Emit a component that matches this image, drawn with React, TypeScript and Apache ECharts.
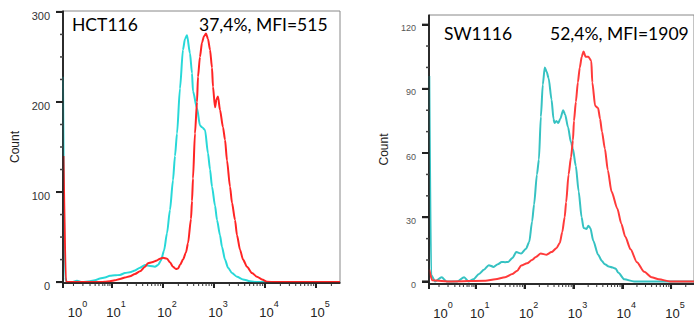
import React, { useEffect, useRef } from "react";
import * as echarts from "echarts";

// Panel texts
const panelNames = ["HCT116", "SW1116"];
const panelStats = ["37,4%, MFI=515", "52,4%, MFI=1909"];
const yAxisName = "Count";

// Axis: x is in display decades of a logicle-like axis (10^k sits at k)
const xMin = 0.04;
const xMax = 5.47;
const xLabelPos = [0.245, 1, 2, 3, 4, 5];
const xLabelExp = ["0", "1", "2", "3", "4", "5"];
const xMajorTicks = [0.04, 1, 2, 3, 4, 5];
const firstDecadeMinor = [0.245, 0.43, 0.57, 0.67, 0.745, 0.82, 0.86, 0.92, 0.96];

const hctYTicks = [0, 100, 200, 300];
const swYTicks = [0, 30, 60, 90, 120];

// HCT116 – isotype (cyan) and stained (red)
const hctIsotype = [
  [0.039, 228], [0.078, 5], [0.118, 0], [0.216, 0], [0.314, 1.5], [0.41, 0], [0.569, 1],
  [0.667, 2], [0.765, 4], [0.863, 5], [0.961, 7], [1.059, 7.5], [1.157, 8], [1.255, 10],
  [1.353, 11], [1.451, 13], [1.549, 16], [1.647, 19], [1.745, 18], [1.843, 17], [1.902, 19],
  [1.961, 24], [2.02, 35], [2.078, 54], [2.137, 80], [2.196, 113], [2.235, 140], [2.275, 165],
  [2.333, 215], [2.392, 258], [2.431, 270], [2.471, 274], [2.529, 254], [2.569, 232],
  [2.588, 212], [2.667, 193], [2.725, 174], [2.765, 172], [2.824, 169], [2.882, 143],
  [2.922, 125], [2.961, 106], [3.02, 85], [3.059, 69], [3.118, 52], [3.157, 39], [3.216, 25],
  [3.275, 16], [3.353, 10], [3.451, 6], [3.569, 3], [3.706, 1], [3.843, 0], [5.47, 0],
];
const hctStained = [
  [0.049, 140], [0.098, 0], [0.765, 0], [0.863, 0.5], [0.961, 1], [1.059, 2], [1.157, 3.5],
  [1.255, 5], [1.353, 6.5], [1.451, 9], [1.549, 12], [1.647, 17], [1.706, 21], [1.784, 22],
  [1.882, 24], [1.941, 26], [2.0, 27], [2.078, 26], [2.137, 22], [2.196, 17], [2.255, 14.5],
  [2.294, 15], [2.333, 19], [2.392, 25], [2.451, 33], [2.49, 43], [2.549, 70], [2.569, 90],
  [2.588, 115], [2.627, 165], [2.667, 200], [2.686, 228], [2.725, 250], [2.765, 266],
  [2.804, 273], [2.843, 276], [2.882, 270], [2.922, 258], [2.961, 238], [2.98, 217],
  [3.02, 194], [3.049, 203], [3.078, 206], [3.118, 191], [3.176, 172], [3.216, 158],
  [3.255, 135], [3.314, 106], [3.353, 88], [3.412, 69], [3.451, 52], [3.51, 36], [3.569, 25],
  [3.647, 17], [3.745, 10], [3.843, 6], [3.941, 3], [4.039, 0.5], [4.2, 0], [5.47, 0],
];

// SW1116 – isotype (cyan) and stained (red)
const swIsotype = [
  [0.046, 96], [0.085, 3], [0.165, 0], [0.3, 2], [0.4, 0], [0.62, 0], [0.76, 2], [0.85, 0],
  [0.95, 1], [1.065, 3.5], [1.165, 5.5], [1.265, 7.6], [1.364, 6.8], [1.45, 8], [1.53, 9.1],
  [1.6, 9], [1.663, 9.1], [1.75, 11], [1.829, 13.7], [1.928, 13], [2.028, 15.3], [2.093, 18.4],
  [2.153, 28], [2.193, 36], [2.252, 50], [2.292, 57], [2.332, 77], [2.372, 92], [2.412, 100],
  [2.451, 98], [2.491, 95], [2.551, 85], [2.591, 76], [2.611, 74], [2.65, 75], [2.69, 74],
  [2.73, 76], [2.789, 80], [2.829, 78], [2.889, 72], [2.949, 65], [2.988, 62], [3.048, 54],
  [3.107, 42], [3.167, 30], [3.207, 25], [3.266, 24.5], [3.306, 26], [3.346, 25], [3.406, 19],
  [3.505, 12.5], [3.584, 9.5], [3.644, 8], [3.724, 7], [3.803, 6.5], [3.863, 6], [3.922, 4],
  [4.042, 1], [4.241, 0], [5.47, 0],
];
const swStained = [
  [0.046, 5.5], [0.105, 0.5], [0.5, 0], [1.2, 0.3], [1.4, 1], [1.6, 2], [1.75, 3.5],
  [1.85, 5], [1.93, 7.5], [2.05, 8.5], [2.15, 10], [2.23, 11.4], [2.33, 13], [2.45, 12.5],
  [2.55, 13.7], [2.65, 15.5], [2.72, 18], [2.77, 23], [2.82, 30], [2.85, 37], [2.9, 50],
  [2.95, 58], [2.99, 66], [3.01, 75], [3.05, 84], [3.09, 93], [3.13, 100], [3.17, 105],
  [3.207, 107.5], [3.247, 105], [3.306, 105], [3.366, 103], [3.386, 93], [3.445, 82],
  [3.505, 81], [3.545, 76], [3.584, 70], [3.644, 62], [3.704, 52], [3.78, 42], [3.9, 34],
  [3.98, 27], [4.06, 21], [4.17, 15], [4.3, 9], [4.45, 4.5], [4.6, 2], [4.75, 1], [4.98, 0],
  [5.47, 0],
];

function minorXTicks(): number[] {
  const out: number[] = [...firstDecadeMinor];
  for (let d = 1; d <= 5; d++) {
    for (let k = 2; k <= 9; k++) {
      const v = d + Math.log10(k);
      if (v < xMax) out.push(Math.round(v * 1000) / 1000);
    }
  }
  return out;
}

function minorYTicks(major: number[], parts: number): number[] {
  const out: number[] = [];
  for (let i = 0; i < major.length - 1; i++) {
    const step = (major[i + 1] - major[i]) / parts;
    for (let j = 1; j < parts; j++) out.push(major[i] + step * j);
  }
  return out;
}

const AX = "#222";
const FONT = "Liberation Sans";

function xLabelFormatter(v: number) {
  let i = 0;
  let best = Infinity;
  xLabelPos.forEach((p, k) => {
    const d = Math.abs(p - v);
    if (d < best) { best = d; i = k; }
  });
  return "{b|10}{s|" + xLabelExp[i] + "}";
}

type PanelCfg = {
  left: number; top: number; width: number; height: number;
  yTicks: number[]; yMin: number; yMax: number; parts: number;
  labelSize: number; labelColor: string; nameGap: number; shift: number;
  isotype: number[][]; stained: number[][]; cyan: string; red: string;
  name: string; stat: string; nameX: number; statX: number; textY: number;
};

// tick items for the axis-frame series: [value, kind]
// kind 0: x major, 1: x minor, 2: y major, 3: y minor, 4: axis lines
function tickItems(c: PanelCfg): number[][] {
  const items: number[][] = [[xMin, 4]];
  xMajorTicks.forEach((v) => items.push([v, 0]));
  minorXTicks().forEach((v) => items.push([v, 1]));
  c.yTicks.forEach((v) => items.push([v, 2]));
  minorYTicks(c.yTicks, c.parts).forEach((v) => items.push([v, 3]));
  return items;
}

function buildOption(c: PanelCfg) {
  const renderTicks = (_params: any, api: any) => {
    const v = api.value(0);
    const k = api.value(1);
    if (k === 4) {
      const o = api.coord([xMin, c.yMin]);
      const r = api.coord([xMax, c.yMin]);
      const t = api.coord([xMin, c.yMax]);
      return { type: "polyline", shape: { points: [t, o, r] }, style: { stroke: AX, lineWidth: 1.5, fill: "none" } };
    }
    if (k <= 1) {
      const p = api.coord([v, c.yMin]);
      const len = k === 0 ? 5 : 3;
      return { type: "polyline", shape: { points: [[p[0], p[1]], [p[0], p[1] + len]] }, style: { stroke: k === 0 ? AX : "#333", lineWidth: k === 0 ? 2 : 1, fill: "none" } };
    }
    const p = api.coord([xMin, v]);
    const len = k === 2 ? 7 : 3;
    return { type: "polyline", shape: { points: [[p[0] - len, p[1]], [p[0], p[1]]] }, style: { stroke: k === 2 ? AX : "#444", lineWidth: k === 2 ? 2 : 1.5, fill: "none" } };
  };

  return {
    animation: false,
    grid: [{ left: c.left, top: c.top, width: c.width, height: c.height, show: true, borderColor: "#888", borderWidth: 1 }],
    xAxis: [
      {
        type: "value", gridIndex: 0, min: xMin, max: xMax, position: "bottom",
        axisLine: { show: true, onZero: false, lineStyle: { color: AX, width: 1.5 } },
        axisTick: { show: true, customValues: xMajorTicks, length: 5, lineStyle: { color: AX, width: 2 } },
        axisLabel: {
          show: true, customValues: xLabelPos, margin: 16, formatter: xLabelFormatter,
          rich: {
            b: { fontSize: 13, fontFamily: FONT, color: "#222", padding: [0, 0, 0, 8] },
            s: { fontSize: 9, fontFamily: FONT, color: "#222", padding: [0, 0, 18, 0] },
          },
        },
        splitLine: { show: false },
      },
    ],
    yAxis: [
      {
        type: "value", gridIndex: 0, min: c.yMin, max: c.yMax, position: "left",
        name: yAxisName, nameLocation: "middle", nameRotate: 90, nameGap: c.nameGap,
        nameTextStyle: { fontSize: 12, fontFamily: FONT, color: "#222" },
        axisLine: { show: true, onZero: false, lineStyle: { color: AX, width: 1.5 } },
        axisTick: { show: true, customValues: c.yTicks, length: 7, lineStyle: { color: AX, width: 2 } },
        axisLabel: {
          show: true, customValues: c.yTicks, fontSize: c.labelSize, fontFamily: FONT, color: c.labelColor,
          margin: 13, verticalAlign: "top", lineHeight: c.shift * 2,
        },
        splitLine: { show: false },
      },
    ],
    series: [
      { type: "line", data: c.isotype, xAxisIndex: 0, yAxisIndex: 0, showSymbol: false, smooth: 0.25, smoothMonotone: "x", lineStyle: { color: c.cyan, width: 2 }, itemStyle: { color: c.cyan } },
      { type: "line", data: c.stained, xAxisIndex: 0, yAxisIndex: 0, showSymbol: false, smooth: 0.25, smoothMonotone: "x", lineStyle: { color: c.red, width: 2 }, itemStyle: { color: c.red } },
      { type: "custom", xAxisIndex: 0, yAxisIndex: 0, data: tickItems(c), renderItem: renderTicks, clip: false, silent: true, z: 5 },
    ],
    graphic: [
      { type: "text", x: c.nameX, y: c.textY, style: { text: c.name, fontSize: 17.5, fontFamily: "Lato", fill: "#000", textVerticalAlign: "middle" } },
      { type: "text", x: c.statX, y: c.textY, style: { text: c.stat, fontSize: 17.5, fontFamily: "Lato", fill: "#000", textVerticalAlign: "middle" } },
    ],
  };
}

const leftCfg: PanelCfg = {
  left: 63, top: 11, width: 277, height: 272,
  yTicks: hctYTicks, yMin: -1, yMax: 301, parts: 4,
  labelSize: 11, labelColor: "#333", nameGap: 42, shift: 4,
  isotype: hctIsotype, stained: hctStained, cyan: "#28d8d8", red: "#ff2424",
  name: panelNames[0], stat: panelStats[0], nameX: 72, statX: 199, textY: 24,
};
const rightCfg: PanelCfg = {
  left: 82, top: 15, width: 273, height: 272,
  yTicks: swYTicks, yMin: -1.2, yMax: 124.5, parts: 3,
  labelSize: 9, labelColor: "#555", nameGap: 38, shift: 3.5,
  isotype: swIsotype, stained: swStained, cyan: "#36c2c2", red: "#ff3a3a",
  name: panelNames[1], stat: panelStats[1], nameX: 97, statX: 203, textY: 33,
};

function Panel({ cfg, x }: { cfg: PanelCfg; x: number }) {
  const ref = useRef<HTMLDivElement>(null);
  useEffect(() => {
    if (!ref.current) return;
    const chart = echarts.init(ref.current, undefined, { renderer: "svg" });
    chart.setOption(buildOption(cfg));
    return () => chart.dispose();
  }, [cfg]);
  return <div ref={ref} style={{ position: "absolute", left: x, top: 0, width: 347, height: 320 }} />;
}

export default function App() {
  return (
    <div style={{ position: "fixed", left: 0, top: 0, width: 694, height: 320, background: "#fff", overflow: "hidden" }}>
      <Panel cfg={leftCfg} x={0} />
      <Panel cfg={rightCfg} x={347} />
    </div>
  );
}
